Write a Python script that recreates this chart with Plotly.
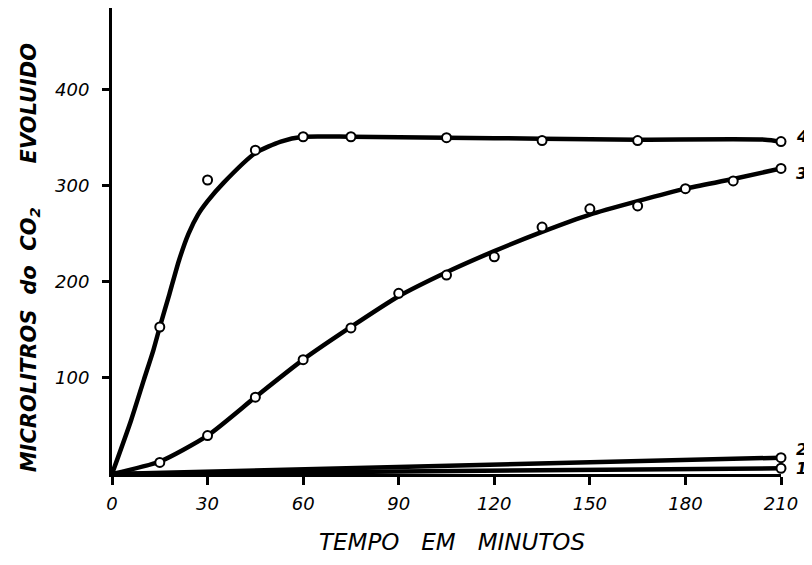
import plotly.graph_objects as go

# --- data ---
# measured points (open circles)
c4_x = [15, 30, 45, 60, 75, 105, 135, 165, 210]
c4_y = [153, 306, 337, 351, 351, 350, 347, 347, 346]
c3_x = [15, 30, 45, 60, 75, 90, 105, 120, 135, 150, 165, 180, 195, 210]
c3_y = [12, 40, 80, 119, 152, 188, 207, 226, 257, 276, 279, 297, 305, 318]
c2_x = [210]
c2_y = [17]
c1_x = [210]
c1_y = [6]

# hand-drawn curves
l4_x = [0, 6, 10, 13, 15, 18, 21, 24, 27, 30, 35, 45, 53, 60, 75, 105, 135, 165, 205, 210]
l4_y = [0, 56, 98, 129, 153, 187, 222, 250, 270, 284, 303, 334, 346, 351, 351, 350, 349, 348, 348, 346]
l3_x = [0, 15, 30, 45, 60, 75, 90, 105, 120, 135, 150, 165, 180, 195, 210]
l3_y = [0, 13, 40, 80, 119, 153, 185, 210, 232, 252, 270, 284, 297, 307, 318]
l2_x = [0, 210]
l2_y = [0, 17]
l1_x = [0, 210]
l1_y = [0, 6]

x_ticks = [0, 30, 60, 90, 120, 150, 180, 210]
y_ticks = [100, 200, 300, 400]
curve_labels = ["4", "3", "2", "1"]
label_y = [351, 313, 25, 6]

fig = go.Figure()
line_style = dict(color="black", width=4.5, shape="spline", smoothing=0.6)
for lx, ly in [(l1_x, l1_y), (l2_x, l2_y), (l3_x, l3_y), (l4_x, l4_y)]:
    fig.add_trace(go.Scatter(x=lx, y=ly, mode="lines", line=line_style,
                             hoverinfo="skip", showlegend=False, cliponaxis=False))
for px, py in [(c1_x, c1_y), (c2_x, c2_y), (c3_x, c3_y), (c4_x, c4_y)]:
    fig.add_trace(go.Scatter(x=px, y=py, mode="markers",
                             marker=dict(symbol="circle", size=9, color="white",
                                         line=dict(color="black", width=2)),
                             showlegend=False, cliponaxis=False))

tick_font = dict(family="DejaVu Sans", size=18, color="black", style="italic")
fig.update_xaxes(range=[0, 210], tickvals=x_ticks, ticktext=[str(v) for v in x_ticks],
                 ticks="outside", ticklen=8, tickwidth=2.5, tickcolor="black",
                 showline=True, linecolor="black", linewidth=3,
                 showgrid=False, zeroline=False, tickfont=tick_font,
                 ticklabelstandoff=3)
fig.update_yaxes(range=[0, 485], tickvals=y_ticks, ticktext=[str(v) for v in y_ticks],
                 ticks="outside", ticklen=7, tickwidth=2.5, tickcolor="black",
                 showline=True, linecolor="black", linewidth=3,
                 showgrid=False, zeroline=False, tickfont=tick_font,
                 ticklabelstandoff=9)

# curve number labels at right end
for txt, yv in zip(curve_labels, label_y):
    fig.add_annotation(x=210, y=yv, xref="x", yref="y", text="<b><i>" + txt + "</i></b>",
                       showarrow=False, xanchor="left", xshift=13,
                       font=dict(family="DejaVu Sans", size=16, color="black"))

fig.add_annotation(x=0.508, y=-0.146, xref="paper", yref="paper",
                   xanchor="center", yanchor="middle",
                   text="<i>TEMPO   EM   MINUTOS</i>", showarrow=False,
                   font=dict(family="DejaVu Sans", size=23, color="black"))
fig.add_annotation(x=-0.1226, y=0.465, xref="paper", yref="paper", textangle=-90,
                   xanchor="center", yanchor="middle",
                   text="<b><i>MICROLITROS  do  CO<sub>2</sub>      EVOLUIDO</i></b>",
                   showarrow=False,
                   font=dict(family="DejaVu Sans", size=21, color="black"))

fig.update_layout(width=804, height=557, plot_bgcolor="white", paper_bgcolor="white",
                  margin=dict(l=104, r=31, t=0, b=91))
fig.write_html("out.html")
